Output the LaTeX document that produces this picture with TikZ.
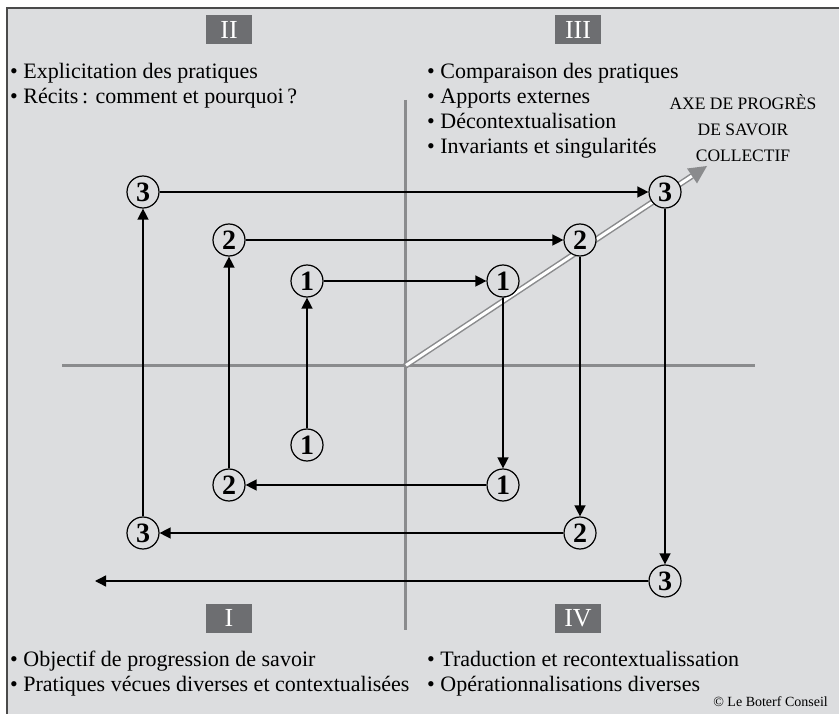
\documentclass[tikz,border=0pt]{standalone}
\usepackage{fontspec}
\setmainfont{Liberation Serif}
\usetikzlibrary{arrows.meta,calc}

\definecolor{panel}{HTML}{DCDDDF}
\definecolor{axisgrey}{HTML}{8A8B8D}
\definecolor{tagbox}{HTML}{6D6E71}
\definecolor{framegrey}{HTML}{4A4A4A}

\tikzset{
  stage/.style={circle, draw=black, line width=1.2pt, fill=panel,
    minimum size=32pt, inner sep=0pt, font=\fontsize{28}{28}\selectfont\bfseries},
  flow/.style={line width=1.4pt, -{Triangle[length=11pt,width=11pt]}},
  axisline/.style={axisgrey, line width=3pt},
  tag/.style={fill=tagbox, text=white, minimum width=46pt, minimum height=29pt,
    inner sep=0pt, font=\fontsize{26}{26}\selectfont},
  listtext/.style={anchor=base west, inner sep=0pt, font=\fontsize{22}{25}\selectfont,
    align=left},
}

\begin{document}
\begin{tikzpicture}[x=1pt,y=-1pt]
  \useasboundingbox (0,0) rectangle (839,714);
  \fill[white] (0,0) rectangle (839,714);
  \fill[panel] (7,8) rectangle (839,714);
  \draw[framegrey, line width=2.5pt] (7,714) -- (7,8) -- (839,8);

  % axes
  \coordinate (origin) at (405,366);
  \draw[axisline] (62,366) -- (755,366);
  \draw[axisline] (405,100) -- (405,630);

  % quadrant tags
  \node[tag] (tII)  at (229,30)  {II};
  \node[tag] (tIII) at (578,30)  {III};
  \node[tag] (tI)   at (229,618) {I};
  \node[tag] (tIV)  at (578,618) {IV};

  % quadrant texts
  \node[listtext] (qII) at (10,79) {• Explicitation des pratiques};
  \node[listtext] (qIIb) at (10,104) {• Récits\,: comment et pourquoi\,?};
  \node[listtext] (qIIIa) at (427,79)  {• Comparaison des pratiques};
  \node[listtext] (qIIIb) at (427,104) {• Apports externes};
  \node[listtext] (qIIIc) at (427,129) {• Décontextualisation};
  \node[listtext] (qIIId) at (427,154) {• Invariants et singularités};
  \node[listtext] (qIa) at (10,666) {• Objectif de progression de savoir};
  \node[listtext] (qIb) at (10,691) {• Pratiques vécues diverses et contextualisées};
  \node[listtext] (qIVa) at (427,666) {• Traduction et recontextualissation};
  \node[listtext] (qIVb) at (427,691) {• Opérationnalisations diverses};

  % progress axis
  \node[anchor=base, inner sep=0pt, font=\fontsize{17.5}{26}\selectfont, align=center]
    (axe) at (743,162) {AXE DE PROGRÈS\\DE SAVOIR\\COLLECTIF};
  \coordinate (axeend) at (692,176);
  \coordinate (axetip) at (707,166);
  \draw[axisgrey, line width=6pt] (origin) -- (axeend);
  \draw[white, line width=3pt, shorten <=1.2pt] (origin) -- (axeend);
  \fill[axisgrey] (axetip) -- ($(axeend)!9pt!90:(axetip)$) -- ($(axeend)!9pt!-90:(axetip)$) -- cycle;

  % stages
  \node[stage] (a1) at (307,445) {1};
  \node[stage] (b1) at (307,281) {1};
  \node[stage] (c1) at (503,281) {1};
  \node[stage] (d1) at (503,485) {1};
  \node[stage] (a2) at (229,485) {2};
  \node[stage] (b2) at (229,240) {2};
  \node[stage] (c2) at (580,240) {2};
  \node[stage] (d2) at (580,533) {2};
  \node[stage] (a3) at (143,533) {3};
  \node[stage] (b3) at (143,192) {3};
  \node[stage] (c3) at (665,192) {3};
  \node[stage] (d3) at (665,581) {3};
  \coordinate (out) at (95,581);

  % spiral path
  \draw[flow] (a1) -- (b1);
  \draw[flow] (b1) -- (c1);
  \draw[flow] (c1) -- (d1);
  \draw[flow] (d1) -- (a2);
  \draw[flow] (a2) -- (b2);
  \draw[flow] (b2) -- (c2);
  \draw[flow] (c2) -- (d2);
  \draw[flow] (d2) -- (a3);
  \draw[flow] (a3) -- (b3);
  \draw[flow] (b3) -- (c3);
  \draw[flow] (c3) -- (d3);
  \draw[flow] (d3) -- (out);

  \node[anchor=base east, inner sep=0pt, font=\fontsize{14}{14}\selectfont]
    (copy) at (828,706) {© Le Boterf Conseil};
\end{tikzpicture}
\end{document}
